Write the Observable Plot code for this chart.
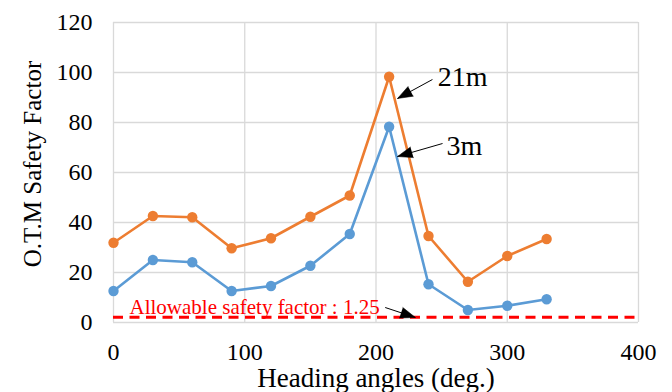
<!DOCTYPE html>
<html><head><meta charset="utf-8">
<script src="https://cdn.jsdelivr.net/npm/d3@7"></script>
<script src="https://cdn.jsdelivr.net/npm/@observablehq/plot@0.6"></script>
<style>
html,body{margin:0;padding:0;background:#fff;}
svg, svg text{font-family:'Liberation Serif','Times New Roman',serif !important; font-variant:normal !important;}
</style></head><body><div id="chart"></div>
<script>
// Data
const angles = [0, 30, 60, 90, 120, 150, 180, 210, 240, 270, 300, 330];
const sf21m = [31.9, 42.6, 42.1, 29.7, 33.7, 42.3, 50.8, 98.3, 34.6, 16.3, 26.6, 33.4];
const sf3m  = [12.6, 25.0, 24.1, 12.6, 14.6, 22.7, 35.4, 78.3, 15.3, 5.0, 6.7, 9.3];
const allowableLevel = 2.1;
const xTicks = [0, 100, 200, 300, 400];
const yTicks = [0, 20, 40, 60, 80, 100, 120];
const xTitle = "Heading angles (deg.)";
const yTitle = "O.T.M Safety Factor";

// Annotations (data coordinates)
const annText = ["21m", "3m", "Allowable safety factor : 1.25"];
const annX = [266, 267.4, 12.2];
const annY = [98.3, 70.7, 6.2];
const arrowX1 = [243, 250.7, 207];
const arrowY1 = [97.2, 71.6, 6.0];
const arrowX2 = [216.4, 216.4, 230];
const arrowY2 = [89.6, 66.4, 2.0];

const W = 672, H = 392, mL = 113, mR = 34, mT = 22, mB = 70;
const xs = d3.scaleLinear([0, 400], [mL, W - mR]);
const ys = d3.scaleLinear([0, 120], [H - mB, mT]);

const series = [
  ...angles.map((a, i) => ({angle: a, value: sf21m[i], s: "21m"})),
  ...angles.map((a, i) => ({angle: a, value: sf3m[i], s: "3m"}))
];
const arrows = annText.map((t, i) => ({
  x1: arrowX1[i], y1: arrowY1[i], x2: arrowX2[i], y2: arrowY2[i],
  rot: Math.atan2(xs(arrowX2[i]) - xs(arrowX1[i]), -(ys(arrowY2[i]) - ys(arrowY1[i]))) * 180 / Math.PI
}));
const anns = annText.map((t, i) => ({t, x: annX[i], y: annY[i]}));
const colors = {"21m": "#ED7D31", "3m": "#5B9BD5"};
const font = "'Liberation Serif', 'Times New Roman', serif";

const chart = Plot.plot({
  width: W, height: H,
  marginLeft: mL, marginRight: mR, marginTop: mT, marginBottom: mB,
  style: {fontFamily: font, background: "#fff", color: "#000"},
  x: {domain: [0, 400], ticks: xTicks, label: null, axis: null},
  y: {domain: [0, 120], ticks: yTicks, label: null, axis: null},
  marks: [
    Plot.gridX(xTicks, {stroke: "#d9d9d9", strokeOpacity: 1, strokeWidth: 1.3}),
    Plot.gridY(yTicks, {stroke: "#d9d9d9", strokeOpacity: 1, strokeWidth: 1.3}),
    Plot.text(xTicks, {x: d => d, frameAnchor: "bottom", dy: 29.5, text: d => String(d), fontSize: 24, fontFamily: font, textAnchor: "middle", lineAnchor: "middle", fill: "#000"}),
    Plot.text(yTicks, {y: d => d, frameAnchor: "left", dx: -21, text: d => String(d), fontSize: 24, fontFamily: font, textAnchor: "end", lineAnchor: "middle", fill: "#000"}),
    Plot.ruleY([allowableLevel], {stroke: "#FF0000", strokeWidth: 3, strokeDasharray: "10,6.5"}),
    Plot.line(series, {x: "angle", y: "value", z: "s", stroke: d => colors[d.s], strokeWidth: 2.6}),
    Plot.dot(series, {x: "angle", y: "value", fill: d => colors[d.s], r: 5.2}),
    Plot.link(arrows, {x1: "x1", y1: "y1", x2: "x2", y2: "y2", stroke: "#000", strokeWidth: 1}),
    Plot.vector(arrows, {x: "x2", y: "y2", rotate: "rot", length: 15, r: 5.5, shape: "spike", anchor: "end", fill: "#000", stroke: "#000", strokeWidth: 0.5}),
    Plot.text(anns.slice(0, 2), {x: "x", y: "y", text: "t", fontSize: 28, fontFamily: font, textAnchor: "middle", lineAnchor: "middle", fill: "#000"}),
    Plot.text(anns.slice(2), {x: "x", y: "y", text: "t", fontSize: 21, fontFamily: font, textAnchor: "start", lineAnchor: "middle", fill: "#FF0000"}),
    Plot.text([xTitle], {frameAnchor: "bottom", dy: 55.5, fontSize: 27, fontFamily: font, textAnchor: "middle", lineAnchor: "middle", fill: "#000"}),
    Plot.text([yTitle], {frameAnchor: "left", dx: -80.5, dy: -8.5, rotate: -90, fontSize: 25, fontFamily: font, textAnchor: "middle", lineAnchor: "middle", fill: "#000"})
  ]
});
document.getElementById("chart").append(chart);
</script></body></html>
